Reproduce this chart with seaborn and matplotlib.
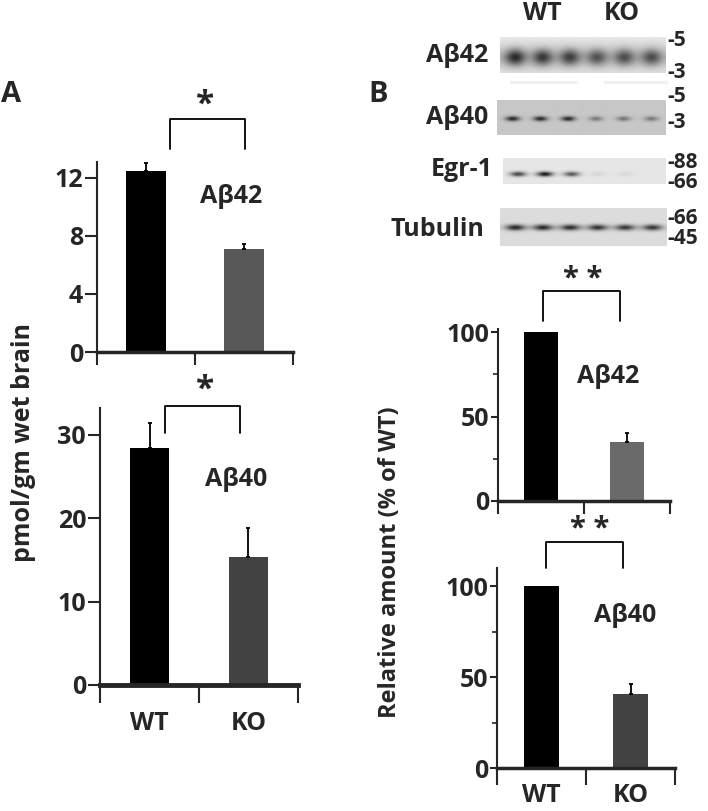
import numpy as np
import pandas as pd
import matplotlib
matplotlib.use('Agg')
import matplotlib.pyplot as plt
import seaborn as sns

# ---- data ----
groups = ['WT', 'KO']

# panel A: ELISA, pmol/gm wet brain
a42_values = [12.5, 7.1]
a42_errors = [0.5, 0.35]
a40_values = [28.4, 15.4]
a40_errors = [3.0, 3.4]

# panel B: western blot quantification, % of WT
b42_values = [100, 35]
b42_errors = [0, 5]
b40_values = [100, 40.6]
b40_errors = [0, 5.5]

# band intensity per lane (3 WT + 3 KO), 0 = no band, 1 = black
blot_names = ['Aβ42', 'Aβ40', 'Egr-1', 'Tubulin']
blot_markers = [['-5', '-3'], ['-5', '-3'], ['-88', '-66'], ['-66', '-45']]
abeta42_bands = [0.58, 0.52, 0.5, 0.42, 0.44, 0.44]
abeta40_bands = [0.62, 0.62, 0.62, 0.3, 0.32, 0.3]
egr1_bands = [0.62, 0.8, 0.55, 0.06, 0.05, 0.0]
tubulin_bands = [0.7, 0.7, 0.68, 0.66, 0.64, 0.64]

W, H = 708, 811
FONT = ['Open Sans', 'DejaVu Sans']
FS = 18

sns.set_style('ticks')
plt.rcParams['font.family'] = FONT
plt.rcParams['font.weight'] = 'bold'

fig = plt.figure(figsize=(W / 100, H / 100), dpi=100)


def px_rect(x0, y0, x1, y1):
    # pixel box of the reference -> figure fraction
    return [x0 / W, 1 - y1 / H, (x1 - x0) / W, (y1 - y0) / H]


def px_text(x, y, s, **kw):
    fig.text(x / W, 1 - y / H, s, family=FONT, fontweight='bold', **kw)


def bar_panel(box, values, errors, ko_color, ylim, yticks, minor_ticks,
              bracket, stars, star_xy, label, label_xy, show_names,
              xlw=2.5, ytick_len=9, xtick_len=9, name_pad=14, star_fs=24):
    ax = fig.add_axes(px_rect(*box))
    df = pd.DataFrame({'genotype': groups, 'value': values})
    sns.barplot(data=df, x='genotype', y='value', hue='genotype',
                palette=['black', ko_color], width=0.4, saturation=1,
                legend=False, linewidth=0, ax=ax)
    for i, e in enumerate(errors):
        if e > 0:
            ax.errorbar(i, values[i], yerr=[[0], [e]], fmt='none',
                        ecolor='black', elinewidth=1.3, capsize=1.5,
                        capthick=1.3)
    ax.set_xlim(-0.5, 1.5)
    ax.set_ylim(*ylim)
    ax.set_yticks(yticks)
    ax.set_yticks(minor_ticks, minor=True)
    ax.set_xticks([-0.5, 0.5, 1.5])
    ax.set_xticklabels([])
    ax.set_xticks([0, 1], minor=True)
    ax.set_xticklabels(groups if show_names else ['', ''], minor=True)
    ax.set_xlabel('')
    ax.set_ylabel('')
    sns.despine(ax=ax)
    ax.spines['left'].set_linewidth(1.5)
    ax.spines['bottom'].set_linewidth(xlw)
    ax.tick_params(axis='y', which='major', length=ytick_len, width=1.5,
                   labelsize=FS, pad=1)
    ax.tick_params(axis='y', which='minor', length=3.5, width=1.2)
    ax.tick_params(axis='x', which='major', length=xtick_len, width=1.5)
    ax.tick_params(axis='x', which='minor', length=0, labelsize=FS,
                   pad=name_pad)
    for t in ax.get_yticklabels() + ax.get_xticklabels(minor=True):
        t.set_family(FONT)
        t.set_fontweight('bold')
    # significance bracket
    x0, x1, ytop, ybot = bracket
    ax.plot([x0, x0, x1, x1], [ybot, ytop, ytop, ybot], color='black',
            lw=1.3, clip_on=False)
    ax.text(star_xy[0], star_xy[1], stars, ha='center', va='center',
            fontsize=star_fs, fontweight='bold', family=FONT)
    ax.text(label_xy[0], label_xy[1], label, ha='center', va='center',
            fontsize=FS, fontweight='bold', family=FONT)
    return ax


# panel A
bar_panel((97, 162, 293, 352), a42_values, a42_errors, '#585858',
          (0, 13.1), [0, 4, 8, 12], [], (0.245, 1.01, 16.07, 14.0), '*',
          (0.6, 17.0), 'Aβ42', (0.87, 10.7), False)
bar_panel((100, 408, 298, 685), a40_values, a40_errors, '#424242',
          (0, 33.2), [0, 10, 20, 30], [], (0.157, 0.914, 33.4, 30.25), '*',
          (0.56, 35.3), 'Aβ40', (0.87, 24.6), True, xlw=3.5,
          xtick_len=13, name_pad=19)

# panel B
bar_panel((498, 329, 670, 501), b42_values, b42_errors, '#6a6a6a',
          (0, 101.8), [0, 50, 100], [25, 75], (0.023, 0.92, 124.3, 106.5),
          '* *', (0.48, 131), 'Aβ42', (0.78, 73.4), False, ytick_len=5,
          star_fs=21)
bar_panel((497, 568, 675, 768), b40_values, b40_errors, '#424242',
          (0, 110), [0, 50, 100], [25, 75], (0.05, 0.916, 124.2, 110),
          '* *', (0.545, 131), 'Aβ40', (0.94, 84), True, ytick_len=5,
          xtick_len=12, name_pad=11, star_fs=21)


# ---- western blots ----
def blot(box, bands, bg, band_y, sx, sy, smear=0.0):
    x0, y0, x1, y1 = box
    w, h = x1 - x0, y1 - y0
    xx, yy = np.meshgrid(np.arange(w), np.arange(h))
    img = np.full((h, w), bg, dtype=float)
    if smear:
        img -= smear * np.exp(-((yy - band_y * h) / (sy * 1.6)) ** 2)
        # lighter edges of the film
        img += 0.1 * (np.abs(yy - band_y * h) / h)
    lanes = np.linspace(0.09, 0.91, len(bands)) * w
    for cx, a in zip(lanes, bands):
        img -= a * np.exp(-((xx - cx) / sx) ** 2 - ((yy - band_y * h) / sy) ** 2)
    ax = fig.add_axes(px_rect(*box))
    ax.imshow(np.clip(img, 0, 1), cmap='gray', vmin=0, vmax=1,
              aspect='auto', interpolation='bilinear')
    ax.axis('off')
    return ax


blot((500, 37, 665, 73), abeta42_bands, 0.86, 0.55, 10, 8, smear=0.12)
blot((497, 100, 665, 135), abeta40_bands, 0.78, 0.52, 7, 2.5)
blot((503, 158, 666, 184), egr1_bands, 0.9, 0.6, 8, 2.5)
blot((500, 208, 667, 246), tubulin_bands, 0.86, 0.5, 10, 3)

# faint strips under the Aβ42 blot
ax_strip = fig.add_axes(px_rect(510, 80, 668, 84))
ax_strip.axis('off')
ax_strip.set_xlim(0, 1)
ax_strip.plot([0.0, 0.42], [0.5, 0.5], color='#f0f0f0', lw=2.5)
ax_strip.plot([0.6, 1.0], [0.5, 0.5], color='#f0f0f0', lw=2.5)

label_y = [55, 118, 170, 230]
label_right = [488, 488, 493, 484]
marker_y = [(40, 72), (97, 122), (162, 182), (218, 239)]
for name, ly, lr, marks, (my0, my1) in zip(blot_names, label_y, label_right,
                                           blot_markers, marker_y):
    px_text(lr, ly, name, ha='right', va='center', fontsize=FS)
    px_text(667, my0, marks[0], ha='left', va='center', fontsize=15)
    px_text(667, my1, marks[1], ha='left', va='center', fontsize=15)

px_text(542, 13, 'WT', ha='center', va='center', fontsize=FS)
px_text(622, 13, 'KO', ha='center', va='center', fontsize=FS)

# panel letters and axis titles
px_text(11, 94, 'A', ha='center', va='center', fontsize=21)
px_text(378, 94, 'B', ha='center', va='center', fontsize=21)
px_text(24, 443, 'pmol/gm wet brain', rotation=90, ha='center', va='center',
        fontsize=FS)
px_text(390, 562, 'Relative amount (% of WT)', rotation=90, ha='center',
        va='center', fontsize=17)

fig.savefig('out.png', dpi=100)
